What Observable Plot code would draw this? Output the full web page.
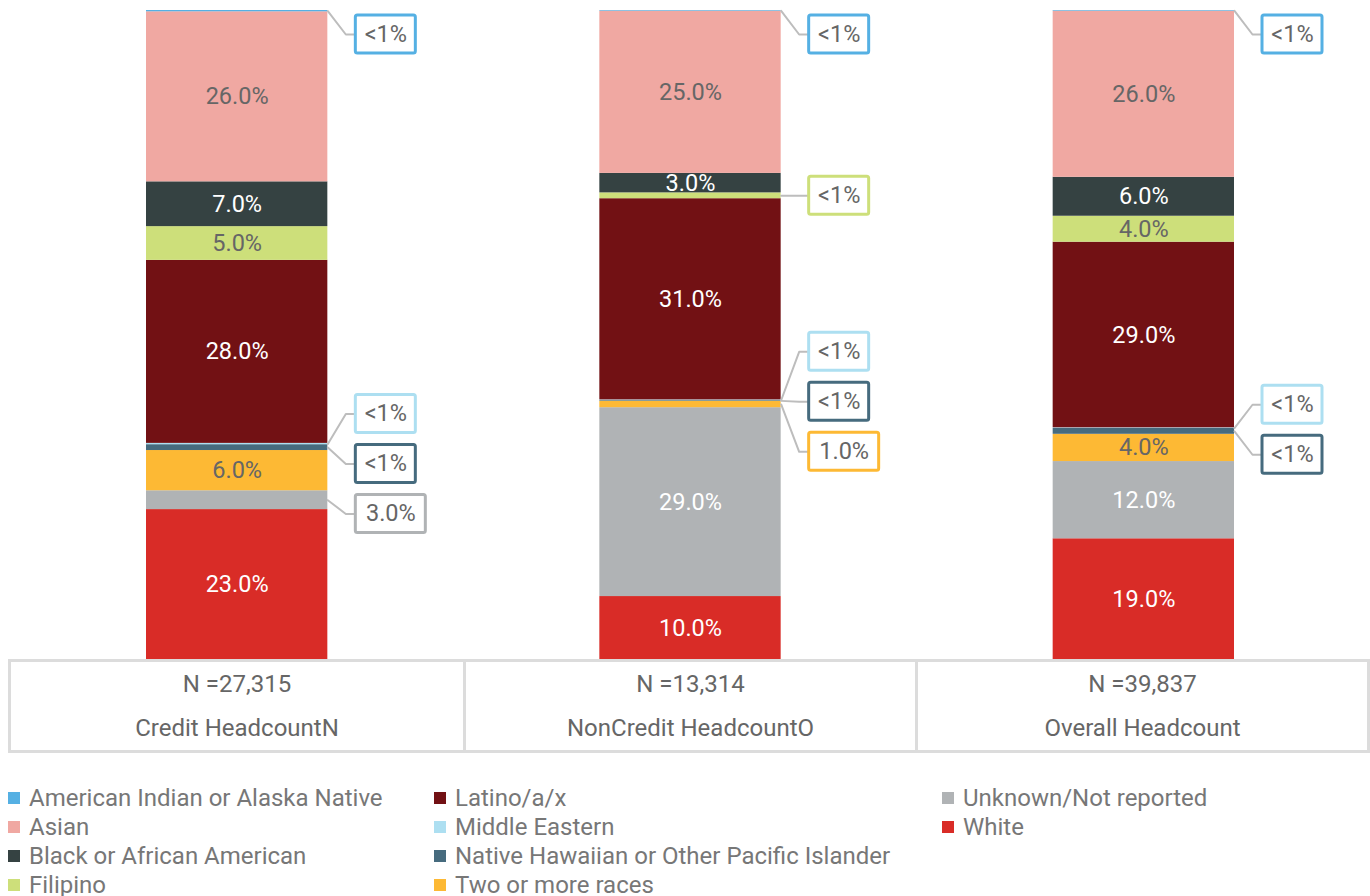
<!DOCTYPE html>
<html><head><meta charset="utf-8">
<script src="https://cdn.jsdelivr.net/npm/d3@7"></script>
<script src="https://cdn.jsdelivr.net/npm/@observablehq/plot@0.6"></script>
<style>
body{margin:0;background:#fff;font-family:Roboto,sans-serif;}
#chart svg{display:block}
.tbl{margin-left:8px;width:1362px;display:grid;grid-template-columns:repeat(3,1fr);border:3px solid #dcdcdc;box-sizing:border-box;margin-top:-2px;}
.cell{text-align:center;color:#666;font-size:24px;line-height:44px;}
.cell+.cell{border-left:3px solid #dcdcdc;}
.legend{margin-top:30px;padding-left:8px;display:grid;grid-auto-flow:column;grid-template-rows:repeat(4,29px);grid-template-columns:426px 508px auto;}
.li{display:flex;align-items:center;color:#777;font-size:24px;white-space:nowrap;}
.sw{width:12px;height:12px;margin-right:9px;flex:none;}
</style></head>
<body>
<div id="chart"></div>
<div class="tbl" id="tbl"></div>
<div class="legend" id="legend"></div>
<script>
// ---- data ----
const groups = ["Credit HeadcountN", "NonCredit HeadcountO", "Overall Headcount"];
const counts = ["27,315", "13,314", "39,837"];
const races = ["American Indian or Alaska Native", "Asian", "Black or African American", "Filipino",
  "Latino/a/x", "Middle Eastern", "Native Hawaiian or Other Pacific Islander", "Two or more races",
  "Unknown/Not reported", "White"];
const colors = ["#55b0e3", "#f0a8a2", "#354242", "#cddf7a", "#721114", "#addff1", "#466b7e", "#fdb934", "#b0b3b5", "#d92c27"];
const credit    = [0.2, 26.2, 6.9, 5.2, 28.2, 0.2, 0.9, 6.2, 2.9, 23.1];
const noncredit = [0.1, 25.0, 3.0, 0.9, 31.0, 0.1, 0.1, 1.0, 29.1, 9.7];
const overall   = [0.1, 25.6, 6.0, 4.0, 28.6, 0.1, 0.9, 4.2, 11.9, 18.6];
const darkLabel = ["Black or African American", "Latino/a/x", "Unknown/Not reported", "White"];
const series = [credit, noncredit, overall];

// ---- layout ----
const W = 1370, H = 661, mt = 10, mb = 2, ml = 10, mr = 0;
const kx = (W - ml - mr) / 3, ky = (H - mt - mb) / 100;
const half = 0.2, elbowPx = 18, boxPx = 28, boxH = 38, gapPx = 50, topPx = 24;
const fmt = v => v < 1 ? "<1%" : Math.round(v).toFixed(1) + "%";

const segs = [];
series.forEach((vals, gi) => {
  let y0 = 0;
  for (let r = races.length - 1; r >= 0; r--) {
    const v = vals[r];
    segs.push({gi, group: groups[gi], race: races[r], ri: r, v, y0, y1: y0 + v, mid: y0 + v / 2, label: fmt(v), callout: v < 3});
    y0 += v;
  }
});

// callout placement: spread labels vertically without overlap
const callouts = [];
groups.forEach((g, gi) => {
  const items = segs.filter(d => d.gi === gi && d.callout)
    .map(d => ({...d, a: (100 - d.mid) * ky}))
    .sort((a, b) => a.a - b.a);
  const cl = [];
  const start = c => Math.max(topPx, c.sum / c.items.length - (c.items.length - 1) * gapPx / 2);
  for (const it of items) {
    cl.push({items: [it], sum: it.a});
    while (cl.length > 1) {
      const c = cl[cl.length - 1], p = cl[cl.length - 2];
      if (start(p) + p.items.length * gapPx > start(c)) {
        p.items.push(...c.items); p.sum += c.sum; cl.pop();
      } else break;
    }
  }
  for (const c of cl) {
    const s = start(c);
    c.items.forEach((it, k) => { it.ly = 100 - (s + k * gapPx) / ky; callouts.push(it); });
  }
});
callouts.forEach(d => {
  d.right = d.gi + 0.5 + half;
  d.bx1 = d.right + boxPx / kx;
  d.bw = (d.label.length === 3 ? 60 : 70) / kx;
});
const paths = callouts.flatMap((d, i) => [
  {id: i, x: d.right, y: d.mid},
  {id: i, x: d.right + elbowPx / kx, y: d.ly},
  {id: i, x: d.bx1, y: d.ly}
]);

const plot = Plot.plot({
  width: W, height: H, marginTop: mt, marginBottom: mb, marginLeft: ml, marginRight: mr,
  x: {domain: [0, 3], axis: null},
  y: {domain: [0, 100], axis: null},
  color: {domain: races, range: colors},
  style: {fontFamily: "Roboto, sans-serif"},
  marks: [
    Plot.rect(segs, {x1: d => d.gi + 0.5 - half, x2: d => d.gi + 0.5 + half, y1: "y0", y2: "y1", fill: "race"}),
    Plot.text(segs.filter(d => !d.callout), {x: d => d.gi + 0.5, y: "mid", text: "label", fontSize: 23.5,
      fill: d => darkLabel.includes(d.race) ? "#ffffff" : "#666666"}),
    Plot.line(paths, {x: "x", y: "y", z: "id", stroke: "#bdbdbd", strokeWidth: 2}),
    Plot.rect(callouts, {x1: "bx1", x2: d => d.bx1 + d.bw, y1: d => d.ly - boxH / 2 / ky, y2: d => d.ly + boxH / 2 / ky,
      fill: "white", stroke: "race", strokeWidth: 3, rx: 2}),
    Plot.text(callouts, {x: d => d.bx1 + d.bw / 2, y: "ly", text: "label", fontSize: 23.5, fill: "#666666"})
  ]
});
document.getElementById("chart").append(plot);

const tbl = document.getElementById("tbl");
groups.forEach((g, i) => {
  const c = document.createElement("div");
  c.className = "cell";
  c.innerHTML = `<div>N =${counts[i]}</div><div>${g}</div>`;
  tbl.append(c);
});
const lg = document.getElementById("legend");
races.forEach((r, i) => {
  const el = document.createElement("div");
  el.className = "li";
  el.innerHTML = `<span class="sw" style="background:${colors[i]}"></span><span>${r}</span>`;
  lg.append(el);
});
</script>
</body></html>
